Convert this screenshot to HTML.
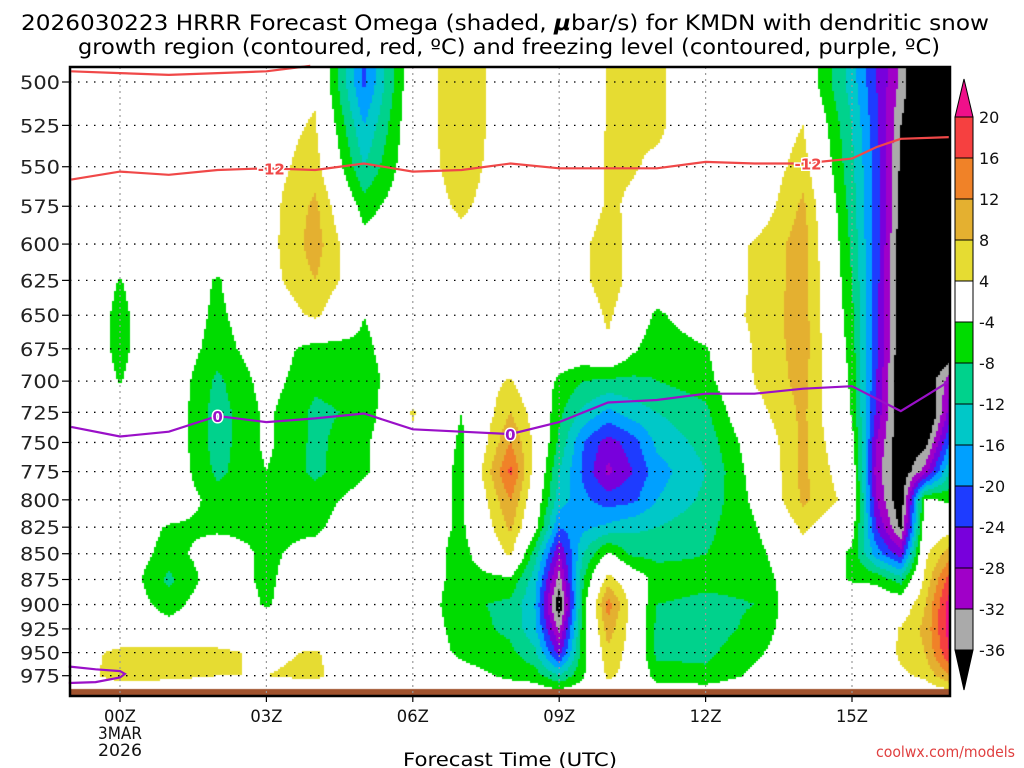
<!DOCTYPE html>
<html><head><meta charset="utf-8"><style>
body{margin:0;background:#fff;width:1024px;height:768px;overflow:hidden;position:relative;font-family:"DejaVu Sans","Liberation Sans",sans-serif}
#cv{position:absolute;left:70px;top:67px}
#ov{position:absolute;left:0;top:0}
</style></head><body>
<canvas id="cv" width="880" height="629"></canvas>
<svg id="ov" width="1024" height="768" xmlns="http://www.w3.org/2000/svg" font-family="DejaVu Sans, Liberation Sans, sans-serif">
<g font-size="21" text-anchor="middle" fill="#000">
<text x="505" y="30" textLength="968" lengthAdjust="spacingAndGlyphs">2026030223 HRRR Forecast Omega (shaded, <tspan font-style="italic" font-weight="bold">μ</tspan>bar/s) for KMDN with dendritic snow</text>
<text x="509" y="54" textLength="862" lengthAdjust="spacingAndGlyphs">growth region (contoured, red, ºC) and freezing level (contoured, purple, ºC)</text>
</g>
<g id="grid"></g>
<g id="lines"></g>
<g id="axes"></g>
<g id="cbar"></g>
<text x="510" y="766" font-size="19" text-anchor="middle" textLength="214" lengthAdjust="spacingAndGlyphs">Forecast Time (UTC)</text>
<text x="1015" y="757" font-size="15" text-anchor="end" fill="#e04040" textLength="139" lengthAdjust="spacingAndGlyphs">coolwx.com/models</text>
</svg>
<script>
const pressures=[500,525,550,575,600,625,650,675,700,725,750,775,800,825,850,875,900,925,950,975];
const times=[-1,0,1,2,3,4,5,6,7,8,8.5,9,9.5,10,10.5,11,12,13,14,15,15.5,16,16.5,17];
const omM1=[0,0,0,0,0,0,0,0,0,0,0,0,0,0,0,0,0,0,2,2];
const om00=[0,0,0,0,0,-4.2,-5,-5,-4.2,0,0,0,0,0,0,0,0,0,5,5.5];
const om01=[0,0,0,0,0,0,0,0,0,0,0,0,0,-4.5,-6,-9,-6,-2,6,5];
const om02=[0,0,0,0,0,-4.5,-5,-6,-9,-10,-10,-9,-6,-5,-1,-1,0,0,5,4];
const om03=[2,2,2,2,2,2,0,-1,-2,-3,-3,-4,-5,-5,-5,-5,-4.5,0,3,4];
const om04=[3,4.5,6,9,10,8,5,-6,-7,-9,-9,-9,-6,-5,-2,0,0,0,4.5,5];
const om05=[-21,-16,-12,-6,-2,0,-4,-5,-6,-7,-5,-4.5,-2,0,0,0,0,0,0,0];
const om06=[0,0,0,0,0,0,0,0,0,4.5,3,0,0,0,0,0,0,0,0,0];
const om07=[8,8,7,5,2,0,0,0,0,-4,-5,-5,-5,-5,-6,-6,-7,-6,-5,-2];
const om08=[0,0,0,0,0,0,0,0,4.5,8,12,17,12,9,5,-5,-9,-9,-7,-5];
const om085=[0,0,0,0,0,0,0,0,0,2,3,2,0,-2,-10,-14,-16,-15,-11,-6];
const om09=[0,0,0,0,0,0,0,0,-5,-7,-9,-12,-14,-20,-28,-34,-40,-33,-26,-12];
const om095=[0,0,0,0,3,3,0,0,-8,-13,-20,-21,-19,-17,-12,-8,-6,-5,-5,-4.5];
const om10=[4.5,4.5,5,5,7,7,5,3,-9,-17,-26,-29,-22,-15,-3,6,14,10,7,5];
const om105=[4.5,4.5,4.5,3,2,2,0,-3,-9,-14,-22,-24,-21,-13,-9,0,2,2,2,2];
const om11=[5,5,3,0,0,0,-5,-7,-8,-12,-15,-18,-16,-12,-9,-6,-8,-9,-9,-6];
const om12=[0,0,0,0,0,0,0,-4.5,-6,-9,-10.5,-12,-11,-9,-8,-7,-9,-10,-9,-7];
const om13=[0,0,0,0,4.5,4.5,5,4.5,4.2,2,-1,-2,-3,-4.5,-6,-7,-8,-7,-5,-3];
const om14=[0,4,6,9,10,10,10,10,9.5,9,9,9,9,5,2,0,0,0,0,0];
const om15=[-14,-12,-11,-10,-9,-8,-7,-6,-5,-4.5,-2,0,2,-2,-5,-4.5,0,0,0,0];
const om155=[-24,-23,-22,-22,-22,-22,-23,-23,-24,-25,-28,-30,-28,-24,-18,-5,0,0,0,0];
const om16=[-33,-36,-37,-38,-39,-40,-40,-40,-40,-40,-40,-40,-40,-37,-26,-10,0,4.5,5,3];
const om165=[-45,-45,-45,-45,-45,-45,-45,-45,-40,-45,-38,-30,-3,0,3,5,8,9,8,5];
const om17=[-45,-45,-45,-45,-45,-45,-45,-40,-30,-26,-20,-12,-5,2,10,18,22,22,20,12];
const omegaCols=[omM1,om00,om01,om02,om03,om04,om05,om06,om07,om08,om085,om09,om095,om10,om105,om11,om12,om13,om14,om15,om155,om16,om165,om17];
const isoM12T=[-1,0,1,2,3,4,5,6,7,8,9,10,11,12,13,14,15,15.5,16,17];
const isoM12P=[558,553,555,552,551,552,548,553,552,548,551,551,551,547,548,548,545,538,533,532];
const isoTopT=[-1,0,1,2,3,3.9];
const isoTopP=[494,495,496,495,494,491];
const frzT=[-1,0,1,2,3,4,5,6,7,8,9,10,11,12,13,14,15,15.5,16,16.5,17];
const frzP=[737,745,741,728,733,730,726,739,741,743,733,717,715,710,710,706,704,714,724,712,700];
const frzLowT=[-1.05,-0.5,0,0.1,0,-0.5,-1.05];
const frzLowP=[965,968,970,973,977,982,983];
const levels=[-36,-32,-28,-24,-20,-16,-12,-8,-4,4,8,12,16,20];
const colors=["#000000","#aaaaaa","#a000c8","#7800dc","#1e3cff","#00a0ff","#00c8c8","#00d28c","#00dc00","#ffffff","#e6dc32","#e4b030","#f08228","#f64040","#f0108a"];
const cbLabels=["20","16","12","8","4","-4","-8","-12","-16","-20","-24","-28","-32","-36"];
const xTickH=[0,3,6,9,12,15];
const xTickL=["00Z","03Z","06Z","09Z","12Z","15Z"];

const X0=70,X1=950,Y0=67,Y1=696,K=889;
const xOf=h=>120+h*48.8;
const yOf=p=>82+K*Math.log(p/500);
const hOf=x=>(x-120)/48.8;
const pOf=y=>500*Math.exp((y-82)/K);
function colorFor(v){let i=0;while(i<levels.length&&v>=levels[i])i++;return colors[i];}
function interp(arr,v){if(v<=arr[0])return [0,0,0];const n=arr.length;if(v>=arr[n-1])return [n-1,n-1,0];let i=0;while(arr[i+1]<v)i++;return [i,i+1,(v-arr[i])/(arr[i+1]-arr[i])];}
function val(h,p){const [a,b,f]=interp(times,h);const [c,d,g]=interp(pressures,p);
 const A=omegaCols[a],B=omegaCols[b];
 const top=A[c]*(1-f)+B[c]*f,bot=A[d]*(1-f)+B[d]*f;let v=top*(1-g)+bot*g;
 if(p>975){v*=Math.max(0,1-(p-975)/22);}
 return v;}
const ctx=document.getElementById('cv').getContext('2d');
const S=2;
for(let px=0;px<880;px+=S){for(let py=0;py<629;py+=S){const v=val(hOf(X0+px+S/2),pOf(Y0+py+S/2));ctx.fillStyle=colorFor(v);ctx.fillRect(px,py,S,S);}}
ctx.fillStyle="#a0522d";ctx.fillRect(0,622,880,7);

const NS="http://www.w3.org/2000/svg";
function mk(tag,attrs,parent){const e=document.createElementNS(NS,tag);for(const k in attrs)e.setAttribute(k,attrs[k]);parent.appendChild(e);return e;}
const grid=document.getElementById('grid');
pressures.forEach(p=>{const l=mk('line',{x1:X0,x2:X1,y1:yOf(p),y2:yOf(p),stroke:"#000","stroke-width":1.3,"stroke-dasharray":"1.5 6.5"},grid);

});
xTickH.forEach(h=>{const l=mk('line',{x1:xOf(h),x2:xOf(h),y1:Y0,y2:Y1,stroke:"#999","stroke-width":1.2,"stroke-dasharray":"2 4"},grid);

});

const lines=document.getElementById('lines');
function poly(T,P,color,w,name){const pts=T.map((t,i)=>xOf(t).toFixed(1)+","+yOf(P[i]).toFixed(1)).join(" ");
const e=mk('polyline',{points:pts,fill:"none",stroke:color,"stroke-width":w},lines);

}
poly(isoM12T,isoM12P,"#f04848",2.2,"isotherm-minus12");
poly(isoTopT,isoTopP,"#f04848",2.2,"isotherm-top");
poly(frzT,frzP,"#9a10c8",2.2,"freezing-level");
poly(frzLowT,frzLowP,"#9a10c8",2.2,"freezing-level-low");
function lab(h,p,txt,color,name){
const t=mk('text',{x:xOf(h),y:yOf(p)+6,"text-anchor":"middle","font-size":15,"font-weight":"bold",fill:color,stroke:"#fff","stroke-width":3,"paint-order":"stroke"},lines);t.textContent=txt;

}
lab(3.1,551,"-12","#f04848","isotherm-label");
lab(14.1,548,"-12","#f04848","isotherm-label");
lab(2,728,"0","#9a10c8","freezing-label");
lab(8,743,"0","#9a10c8","freezing-label");

const axes=document.getElementById('axes');
const fr=mk('rect',{x:X0,y:Y0,width:X1-X0,height:Y1-Y0,fill:"none",stroke:"#000","stroke-width":2.5},axes);


pressures.forEach(p=>{mk('line',{x1:62,x2:70,y1:yOf(p),y2:yOf(p),stroke:"#000","stroke-width":1.2},axes);
const t=mk('text',{x:20,y:yOf(p)+7,"font-size":19,fill:"#222",textLength:40,lengthAdjust:"spacingAndGlyphs"},axes);t.textContent=String(p);

});
xTickH.forEach((h,i)=>{mk('line',{x1:xOf(h),x2:xOf(h),y1:Y1,y2:Y1+6,stroke:"#000","stroke-width":1.2},axes);
const t=mk('text',{x:xOf(h),y:722,"text-anchor":"middle","font-size":17,fill:"#111",textLength:32,lengthAdjust:"spacingAndGlyphs"},axes);t.textContent=xTickL[i];

});
[["3MAR",739],["2026",756]].forEach(([s,y])=>{const t=mk('text',{x:xOf(0),y:y,"text-anchor":"middle","font-size":17,fill:"#111",textLength:44,lengthAdjust:"spacingAndGlyphs"},axes);t.textContent=s;

});

const cb=document.getElementById('cbar');
const CX=955,CW=18,CT=117,BH=41;
const tp=mk('polygon',{points:`${CX},${CT} ${CX+CW},${CT} ${CX+CW/2},${CT-38}`,fill:colors[14],stroke:"#000","stroke-width":1},cb);


for(let i=0;i<13;i++){const r=mk('rect',{x:CX,y:CT+i*BH,width:CW,height:BH,fill:colors[13-i],stroke:"#000","stroke-width":1},cb);

}
const bt=mk('polygon',{points:`${CX},${CT+13*BH} ${CX+CW},${CT+13*BH} ${CX+CW/2},${CT+13*BH+40}`,fill:"#000",stroke:"#000","stroke-width":1},cb);


cbLabels.forEach((s,i)=>{const t=mk('text',{x:979,y:CT+i*BH+6,"font-size":16,fill:"#111"},cb);t.textContent=s;

});
</script>
</body></html>
